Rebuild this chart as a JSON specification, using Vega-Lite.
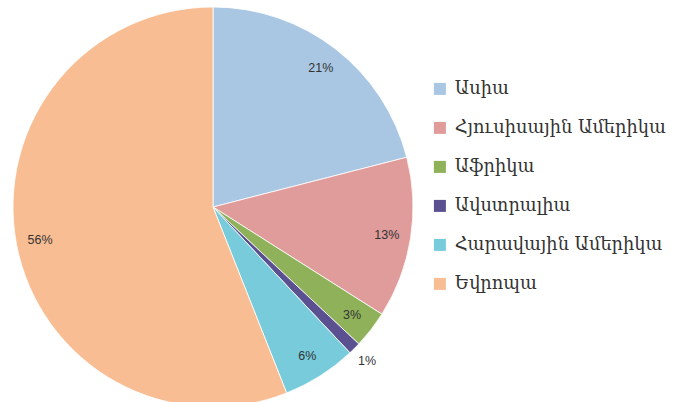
{
  "$schema": "https://vega.github.io/schema/vega-lite/v6.json",
  "autosize": "none",
  "padding": {"left": 0, "top": 0, "right": 247, "bottom": 0},
  "width": 426,
  "height": 414,
  "background": "white",
  "view": {"stroke": null},
  "data": {"values": [
    {"i": 1, "region": "Ասիա", "share": 0.21},
    {"i": 2, "region": "Հյուսիսային Ամերիկա", "share": 0.13},
    {"i": 3, "region": "Աֆրիկա", "share": 0.03},
    {"i": 4, "region": "Ավստրալիա", "share": 0.01},
    {"i": 5, "region": "Հարավային Ամերիկա", "share": 0.06},
    {"i": 6, "region": "Եվրոպա", "share": 0.56}
  ]},
  "encoding": {
    "theta": {"field": "share", "type": "quantitative", "stack": true},
    "order": {"field": "i", "type": "quantitative"}
  },
  "layer": [
    {
      "mark": {"type": "arc", "outerRadius": 200, "stroke": "white", "strokeWidth": 0.8},
      "encoding": {
        "color": {
          "field": "region", "type": "nominal",
          "scale": {
            "domain": ["Ասիա", "Հյուսիսային Ամերիկա", "Աֆրիկա", "Ավստրալիա", "Հարավային Ամերիկա", "Եվրոպա"],
            "range": ["#A9C7E2", "#E09B9B", "#8EB15A", "#5B5190", "#77CBDB", "#F8BD92"]
          },
          "legend": {
            "title": null,
            "orient": "none",
            "legendX": 431,
            "legendY": 80,
            "symbolType": "square",
            "symbolSize": 144,
            "symbolStrokeWidth": 0,
            "labelFont": "DejaVu Serif",
            "labelFontSize": 17.8,
            "labelColor": "#333333",
            "labelOffset": 6,
            "rowPadding": 20,
            "labelLimit": 300
          }
        }
      }
    },
    {
      "mark": {"type": "text", "radius": 176, "font": "Liberation Sans", "fontSize": 12.5},
      "encoding": {
        "color": {"value": "#333333"},
        "text": {"condition": {"test": "datum.share < 0.02", "value": ""}, "field": "share", "type": "quantitative", "format": ".0%"}
      }
    },
    {
      "mark": {"type": "text", "radius": 218, "font": "Liberation Sans", "fontSize": 12.5},
      "encoding": {
        "color": {"value": "#333333"},
        "text": {"condition": {"test": "datum.share >= 0.02", "value": ""}, "field": "share", "type": "quantitative", "format": ".0%"}
      }
    }
  ]
}
